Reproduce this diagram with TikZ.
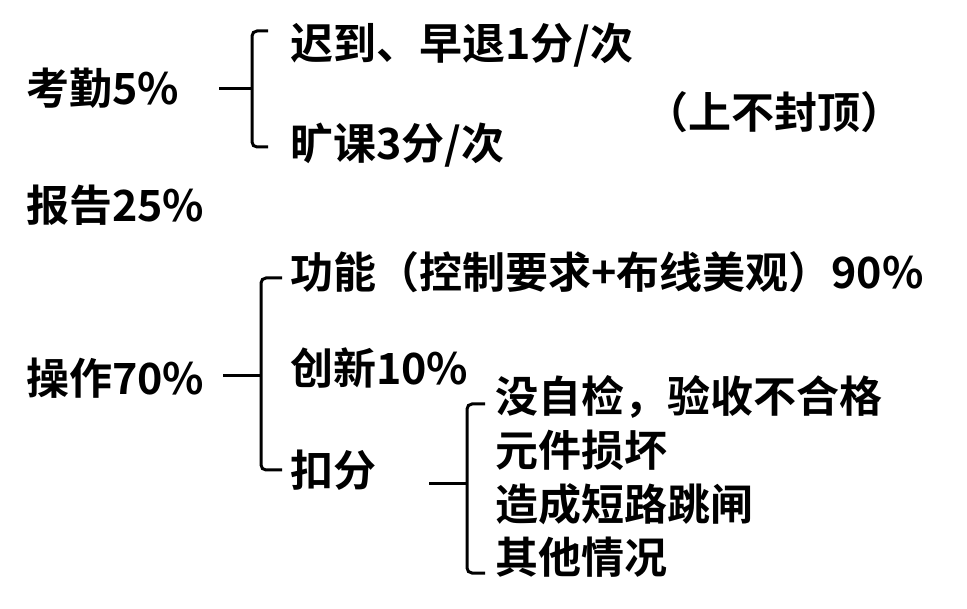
\documentclass[tikz,border=0pt]{standalone}
\usepackage{fontspec}
\newfontfamily\cjk{Noto Sans CJK SC Bold}
\begin{document}
\begin{tikzpicture}[x=1pt,y=-1pt,
  lbl/.style={anchor=west,inner sep=0pt,font=\cjk\fontsize{43}{43}\selectfont},
  brace/.style={line width=3pt,rounded corners=5pt}]
\useasboundingbox[fill=white] (0,0) rectangle (967,609);
% level 0
\node[lbl] (kq) at (26,88) {考勤5\%};
\node[lbl] (bg) at (26,205) {报告25\%};
\node[lbl] (cz) at (26,378) {操作70\%};
% level 1
\node[lbl] (cd) at (290,45) {迟到、早退1分/次};
\node[lbl] (kk) at (290,145) {旷课3分/次};
\node[lbl] (sb) at (645,112) {（上不封顶）};
\node[lbl] (gn) at (290,272) {功能（控制要求+布线美观）90\%};
\node[lbl] (cx) at (290,368) {创新10\%};
\node[lbl] (kf) at (290,470) {扣分};
% level 2
\node[lbl] (m1) at (495,397) {没自检，验收不合格};
\node[lbl] (m2) at (495,450) {元件损坏};
\node[lbl] (m3) at (495,504) {造成短路跳闸};
\node[lbl] (m4) at (495,557) {其他情况};
% brace 1
\coordinate (s1) at (219,89);
\coordinate (b1) at (252,89);
\coordinate (t1) at (268,31);
\coordinate (u1) at (268,147);
\draw[brace] (s1) -- (b1);
\draw[brace] (t1) -- (252,31) -- (252,147) -- (u1);
% brace 2
\coordinate (s2) at (223,376);
\coordinate (b2) at (261,376);
\coordinate (t2) at (282,278);
\coordinate (u2) at (282,470);
\draw[brace] (s2) -- (b2);
\draw[brace] (t2) -- (261,278) -- (261,470) -- (u2);
% brace 3
\coordinate (s3) at (429,484);
\coordinate (b3) at (467,484);
\coordinate (t3) at (485,404);
\coordinate (u3) at (485,573);
\draw[brace] (s3) -- (b3);
\draw[brace] (t3) -- (467,404) -- (467,573) -- (u3);
\end{tikzpicture}
\end{document}
